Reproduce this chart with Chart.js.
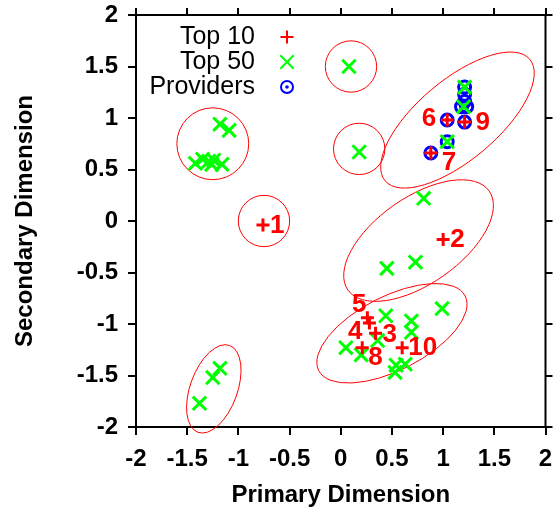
<!DOCTYPE html>
<html>
<head>
<meta charset="utf-8">
<script src="https://cdn.jsdelivr.net/npm/chart.js@4"></script>
<style>
  html, body { margin: 0; padding: 0; background: #fff; }
</style>
</head>
<body>
<canvas id="chart" width="558" height="514"></canvas>
<script>
// Top 10 (red +), labelled 1..10
const top10X = [-0.76, 1.0, 0.34, 0.28, 0.26, 1.04, 0.88, 0.21, 1.21, 0.6];
const top10Y = [-0.04, -0.18, -1.09, -0.99, -0.94, 0.98, 0.66, -1.23, 0.96, -1.23];
const top10Names = ["1", "2", "3", "4", "5", "6", "7", "8", "9", "10"];

// Top 50 (green x)
const top50X = [0.08, 0.18,
  -1.18, -1.09, -1.42, -1.35, -1.29, -1.24, -1.16, -1.26,
  -1.18, -1.25, -1.38,
  0.81, 0.73, 0.45,
  0.99, 0.44, 0.69, 0.69, 0.36, 0.05, 0.2, 0.54, 0.63, 0.53,
  1.04, 1.21, 1.2];
const top50Y = [1.5, 0.67,
  0.94, 0.88, 0.56, 0.6, 0.58, 0.59, 0.55, 0.55,
  -1.43, -1.52, -1.77,
  0.22, -0.4, -0.46,
  -0.85, -0.92, -0.97, -1.08, -1.16, -1.23, -1.3, -1.4, -1.39, -1.47,
  0.77, 1.3, 1.11];

// Providers (blue circle with dot)
const provX = [1.04, 1.21, 0.88, 1.04, 1.21, 1.21, 1.21, 1.18, 1.23];
const provY = [0.98, 0.96, 0.66, 0.77, 1.3, 1.23, 1.16, 1.11, 1.11];

// cluster outlines: centre x, centre y, semi-axis a, semi-axis b (data units), tilt in degrees
const ellCX = [0.1, 0.18, -1.25, -0.75, -1.24, 0.76, 0.5, 1.14];
const ellCY = [1.5, 0.7, 0.75, 0.0, -1.63, -0.19, -1.09, 0.98];
const ellA = [0.25, 0.25, 0.35, 0.25, 0.45, 0.84, 0.8, 0.92];
const ellB = [0.25, 0.25, 0.35, 0.25, 0.23, 0.42, 0.36, 0.39];
const ellTilt = [0, 0, 0, 0, 70, 35, 27, 40];

const xTicks = [-2, -1.5, -1, -0.5, 0, 0.5, 1, 1.5, 2];
const yTicks = [-2, -1.5, -1, -0.5, 0, 0.5, 1, 1.5, 2];

const toPts = (xs, ys) => xs.map((x, i) => ({ x: x, y: ys[i] }));

// label placement next to each red + (pixels): dx, dy, align
const labelPos = [
  [7, 1, "left"], [7, 0, "left"], [7, 2, "left"], [-7, 9, "right"], [-1, -13, "right"],
  [-11, -1, "right"], [11, 10, "left"], [6, 10, "left"], [11, 1, "left"], [6, 0, "left"]
];

const RED = "#ff0000", GREEN = "#00ff00", BLUE = "#0000ff";

const ellipsePlugin = {
  id: "ellipses",
  beforeDatasetsDraw(chart) {
    const { ctx, scales: { x, y } } = chart;
    const ux = Math.abs(x.getPixelForValue(1) - x.getPixelForValue(0));
    const uy = Math.abs(y.getPixelForValue(1) - y.getPixelForValue(0));
    ctx.save();
    ctx.strokeStyle = RED;
    ctx.lineWidth = 1;
    for (let i = 0; i < ellCX.length; i++) {
      const u = (ux + uy) / 2;
      ctx.beginPath();
      ctx.ellipse(x.getPixelForValue(ellCX[i]), y.getPixelForValue(ellCY[i]),
        ellA[i] * u, ellB[i] * u, -ellTilt[i] * Math.PI / 180, 0, Math.PI * 2);
      ctx.stroke();
    }
    ctx.restore();
  }
};

const decoPlugin = {
  id: "deco",
  afterDatasetsDraw(chart) {
    const { ctx, chartArea: a, scales: { x, y } } = chart;
    ctx.save();
    // numbers beside the top 10
    ctx.fillStyle = RED;
    ctx.font = "bold 26px 'Liberation Sans', Arial, sans-serif";
    ctx.textBaseline = "middle";
    top10Names.forEach((name, i) => {
      const p = labelPos[i];
      ctx.textAlign = p[2];
      ctx.fillText(name, x.getPixelForValue(top10X[i]) + p[0], y.getPixelForValue(top10Y[i]) + p[1]);
    });

    // top and right frame with mirrored ticks
    ctx.strokeStyle = "#000";
    ctx.lineWidth = 2;
    ctx.beginPath();
    ctx.moveTo(a.left - 1, a.top);
    ctx.lineTo(a.right, a.top);
    ctx.lineTo(a.right, a.bottom + 1);
    xTicks.forEach(v => {
      const px = Math.round(x.getPixelForValue(v));
      ctx.moveTo(px, a.top);
      ctx.lineTo(px, a.top - 7);
    });
    yTicks.forEach(v => {
      const py = Math.round(y.getPixelForValue(v));
      ctx.moveTo(a.right, py);
      ctx.lineTo(a.right + 7, py);
    });
    ctx.stroke();

    // legend: text, then marker
    const rows = [
      ["Top 10", { pointStyle: "cross", radius: 6.5, borderWidth: 3 }, RED],
      ["Top 50", { pointStyle: "crossRot", radius: 9.5, borderWidth: 3 }, GREEN],
      ["Providers", { pointStyle: "circle", radius: 6, borderWidth: 3 }, BLUE]
    ];
    ctx.font = "25px 'Liberation Sans', Arial, sans-serif";
    ctx.textAlign = "right";
    rows.forEach((r, i) => {
      const ly = 37 + i * 25;
      ctx.fillStyle = "#000";
      ctx.fillText(r[0], 255, ly);
      ctx.strokeStyle = r[2];
      ctx.fillStyle = "rgba(0,0,0,0)";
      Chart.helpers.drawPoint(ctx, r[1], 287, ly);
      if (i === 2) {
        ctx.fillStyle = BLUE;
        ctx.beginPath();
        ctx.arc(287, ly, 1.8, 0, Math.PI * 2);
        ctx.fill();
      }
    });
    ctx.restore();
  }
};

const axisFont = { family: "'Liberation Sans', Arial, sans-serif", size: 24, weight: "bold" };

new Chart(document.getElementById("chart"), {
  type: "scatter",
  data: {
    datasets: [
      {
        label: "Top 10",
        data: toPts(top10X, top10Y),
        pointStyle: "cross",
        pointRadius: 6.5,
        pointBorderWidth: 3,
        borderColor: RED,
        backgroundColor: RED
      },
      {
        label: "Top 50",
        data: toPts(top50X, top50Y),
        pointStyle: "crossRot",
        pointRadius: 9.5,
        pointBorderWidth: 3,
        borderColor: GREEN,
        backgroundColor: GREEN
      },
      {
        label: "Providers",
        data: toPts(provX, provY),
        pointStyle: "circle",
        pointRadius: 6,
        pointBorderWidth: 3,
        borderColor: BLUE,
        backgroundColor: "rgba(0,0,0,0)"
      },
      {
        label: "Providers centre",
        data: toPts(provX, provY),
        pointStyle: "circle",
        pointRadius: 1.8,
        pointBorderWidth: 0,
        borderColor: BLUE,
        backgroundColor: BLUE
      }
    ]
  },
  options: {
    responsive: false,
    animation: false,
    layout: { padding: { top: 15, right: 11, left: 0, bottom: 0 } },
    plugins: { legend: { display: false }, tooltip: { enabled: false } },
    scales: {
      x: {
        type: "linear",
        min: -2,
        max: 2,
        afterFit: (s) => { s.height = 87; s.paddingLeft = 0; s.paddingRight = 0; },
        afterBuildTicks: (s) => { s.ticks = xTicks.map(v => ({ value: v })); },
        ticks: { color: "#000", font: axisFont, padding: 10, maxRotation: 0, autoSkip: false, callback: (v) => String(v) },
        grid: { drawOnChartArea: false, tickLength: 8, color: "#000", lineWidth: 2 },
        border: { display: true, color: "#000", width: 2 },
        title: { display: true, text: "Primary Dimension", color: "#000", font: axisFont, padding: { top: 0, bottom: 4 } }
      },
      y: {
        type: "linear",
        min: -2,
        max: 2,
        afterFit: (s) => { s.width = 136; s.paddingTop = 0; s.paddingBottom = 0; },
        afterBuildTicks: (s) => { s.ticks = yTicks.map(v => ({ value: v })); },
        ticks: { color: "#000", font: axisFont, padding: 10, autoSkip: false, callback: (v) => String(v) },
        grid: { drawOnChartArea: false, tickLength: 8, color: "#000", lineWidth: 2 },
        border: { display: true, color: "#000", width: 2 },
        title: { display: true, text: "Secondary Dimension", color: "#000", font: axisFont, padding: { top: 11, bottom: 0 } }
      }
    }
  },
  plugins: [ellipsePlugin, decoPlugin]
});
</script>
</body>
</html>
